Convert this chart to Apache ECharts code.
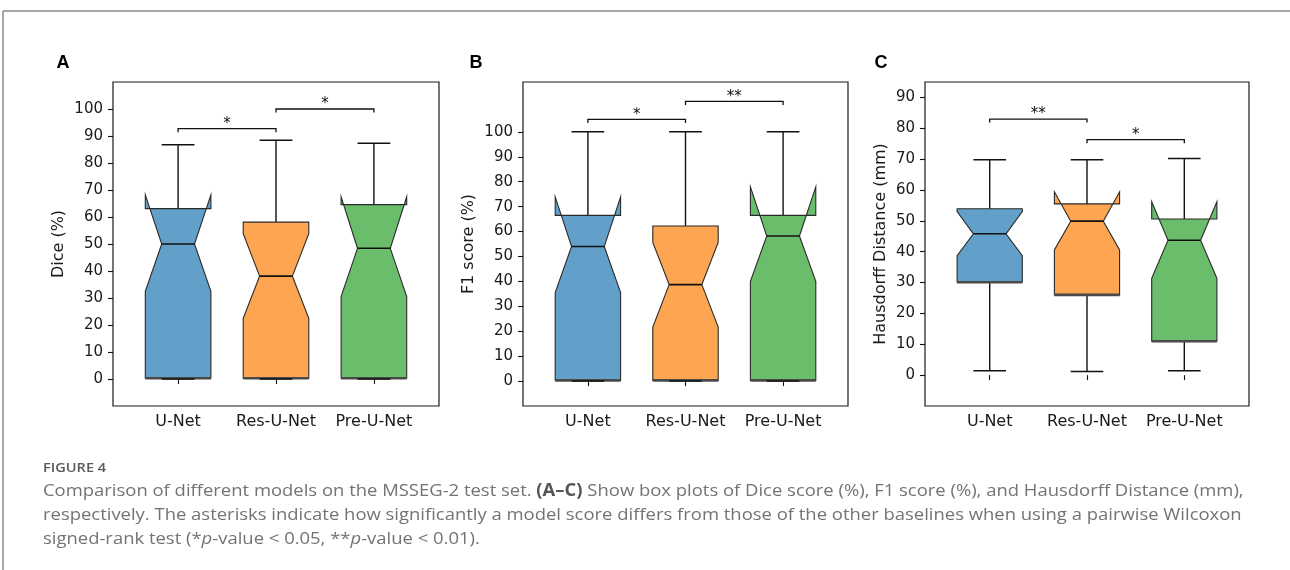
<!DOCTYPE html>
<html>
<head>
<meta charset="utf-8">
<script src="https://cdn.jsdelivr.net/npm/echarts@6/dist/echarts.min.js"></script>
<style>
html,body{margin:0;padding:0;background:#fff;}
#chart{width:1290px;height:570px;}
</style>
</head>
<body>
<div id="chart"></div>
<script>
// ---------- data ----------
const categories = ['U-Net', 'Res-U-Net', 'Pre-U-Net'];
const panelLetters = ['A', 'B', 'C'];
const yAxisNames = ['Dice (%)', 'F1 score (%)', 'Hausdorff Distance (mm)'];
const yTicksA = [0, 10, 20, 30, 40, 50, 60, 70, 80, 90, 100];
const yTicksB = [0, 10, 20, 30, 40, 50, 60, 70, 80, 90, 100];
const yTicksC = [0, 10, 20, 30, 40, 50, 60, 70, 80, 90];

// Panel A: Dice (%)
const diceLow     = [0, 0, 0];
const diceQ1      = [0.3, 0.3, 0.3];
const diceNotchLo = [32.5, 22.5, 30.5];
const diceMedian  = [50.0, 38.1, 48.4];
const diceNotchHi = [68.2, 53.8, 67.5];
const diceQ3      = [63.1, 58.1, 64.6];
const diceHigh    = [86.8, 88.4, 87.3];

// Panel B: F1 score (%)
const f1Low     = [0, 0, 0];
const f1Q1      = [0.3, 0.3, 0.3];
const f1NotchLo = [35.5, 21.7, 40.0];
const f1Median  = [54.0, 38.7, 58.2];
const f1NotchHi = [73.9, 55.6, 77.9];
const f1Q3      = [66.5, 62.2, 66.5];
const f1High    = [100, 100, 100];

// Panel C: Hausdorff Distance (mm)
const hdLow     = [1.4, 1.2, 1.4];
const hdQ1      = [30.1, 26.0, 11.0];
const hdNotchLo = [38.7, 40.6, 31.4];
const hdMedian  = [45.8, 49.9, 43.7];
const hdNotchHi = [53.0, 59.4, 56.2];
const hdQ3      = [53.9, 55.5, 50.6];
const hdHigh    = [69.8, 69.8, 70.2];

// significance brackets (category positions 1..3)
const sigPairsA = [[1, 2], [2, 3]];
const sigYA     = [92.7, 100.0];
const sigTextA  = ['*', '*'];
const sigPairsB = [[1, 2], [2, 3]];
const sigYB     = [105.0, 112.2];
const sigTextB  = ['*', '**'];
const sigPairsC = [[1, 2], [2, 3]];
const sigYC     = [83.0, 76.3];
const sigTextC  = ['**', '*'];

// ---------- styling ----------
const boxColors = ['#62a0ca', '#fda550', '#6abe6b'];
const BOX_W = 0.67;
const FONT = 'DejaVu Sans';

const panels = [
  {low: diceLow, q1: diceQ1, nlo: diceNotchLo, med: diceMedian, nhi: diceNotchHi, q3: diceQ3, high: diceHigh,
   ticks: yTicksA, ymin: -10, ymax: 110, sig: sigPairsA, sigY: sigYA, sigText: sigTextA,
   grid: {left: 113, top: 82, width: 326, height: 324}, nameGap: 46, letterX: 63},
  {low: f1Low, q1: f1Q1, nlo: f1NotchLo, med: f1Median, nhi: f1NotchHi, q3: f1Q3, high: f1High,
   ticks: yTicksB, ymin: -10, ymax: 120, sig: sigPairsB, sigY: sigYB, sigText: sigTextB,
   grid: {left: 523, top: 82, width: 325, height: 324}, nameGap: 46, letterX: 476},
  {low: hdLow, q1: hdQ1, nlo: hdNotchLo, med: hdMedian, nhi: hdNotchHi, q3: hdQ3, high: hdHigh,
   ticks: yTicksC, ymin: -10, ymax: 95, sig: sigPairsC, sigY: sigYC, sigText: sigTextC,
   grid: {left: 925, top: 82, width: 324, height: 324}, nameGap: 36, letterX: 881}
];

function boxRender(params, api) {
  const x = api.value(0);
  const low = api.value(1), q1 = api.value(2), nlo = api.value(3), med = api.value(4),
        nhi = api.value(5), q3 = api.value(6), high = api.value(7);
  const half = api.size([BOX_W, 0])[0] / 2;
  const cx = api.coord([x, med])[0];
  const Y = v => api.coord([x, v])[1];
  const L = cx - half, R = cx + half, qL = cx - half / 2, qR = cx + half / 2;
  const pts = [[L, Y(q1)], [R, Y(q1)], [R, Y(nlo)], [qR, Y(med)], [R, Y(nhi)], [R, Y(q3)],
               [L, Y(q3)], [L, Y(nhi)], [qL, Y(med)], [L, Y(nlo)]];
  const color = boxColors[params.dataIndex % boxColors.length];
  const ln = (x1, y1, x2, y2, w, c) => ({type: 'line', shape: {x1, y1, x2, y2},
    style: {stroke: c || '#111', lineWidth: w || 1.4}});
  return {
    type: 'group',
    children: [
      ln(cx, Y(q3), cx, Y(high)),
      ln(cx, Y(q1), cx, Y(low)),
      {type: 'polygon', shape: {points: pts}, style: {fill: color, stroke: '#2a2a2a', lineWidth: 1.1}},
      ln(L, Y(q1), R, Y(q1), 2.6, '#4a4a4a'),
      ln(qL, Y(med), qR, Y(med), 1.6, '#111'),
      ln(qL, Y(high), qR, Y(high), 1.5, '#111'),
      ln(qL, Y(low), qR, Y(low), 1.5, '#111')
    ]
  };
}

function makeSigRender(texts) {
  return function (params, api) {
    const p1 = api.coord([api.value(0), api.value(2)]);
    const p2 = api.coord([api.value(1), api.value(2)]);
    const LEG = 3.5;
    return {
      type: 'group',
      children: [
        {type: 'polyline', shape: {points: [[p1[0], p1[1] + LEG], [p1[0], p1[1]], [p2[0], p2[1]], [p2[0], p2[1] + LEG]]},
         style: {stroke: '#111', lineWidth: 1.3, fill: null}},
        {type: 'text', x: (p1[0] + p2[0]) / 2, y: p1[1] + 3,
         style: {text: texts[params.dataIndex], fill: '#111', font: '15px ' + FONT,
                 textAlign: 'center', textVerticalAlign: 'bottom'}}
      ]
    };
  };
}

const grids = [], xAxes = [], yAxes = [], series = [];
panels.forEach((p, i) => {
  grids.push(Object.assign({show: true, borderColor: '#1a1a1a', borderWidth: 1.2, backgroundColor: 'transparent'}, p.grid));
  xAxes.push({
    type: 'value', gridIndex: i, min: 0.335, max: 3.665,
    axisLine: {show: false}, splitLine: {show: false},
    axisTick: {show: true, length: 5, lineStyle: {color: '#111', width: 1.1}, customValues: [1, 2, 3]},
    axisLabel: {customValues: [1, 2, 3], formatter: v => categories[Math.round(v) - 1] || '',
                color: '#1a1a1a', fontSize: 16, fontFamily: FONT, margin: 8}
  });
  yAxes.push({
    type: 'value', gridIndex: i, min: p.ymin, max: p.ymax,
    name: yAxisNames[i], nameLocation: 'middle', nameGap: p.nameGap,
    nameTextStyle: {color: '#1a1a1a', fontSize: 16, fontFamily: FONT},
    axisLine: {show: false}, splitLine: {show: false},
    axisTick: {show: true, length: 5, lineStyle: {color: '#111', width: 1.1}, customValues: p.ticks},
    axisLabel: {customValues: p.ticks, color: '#1a1a1a', fontSize: 15, fontFamily: FONT, margin: 10}
  });
  const rows = categories.map((c, k) => [k + 1, p.low[k], p.q1[k], p.nlo[k], p.med[k], p.nhi[k], p.q3[k], p.high[k]]);
  series.push({type: 'custom', xAxisIndex: i, yAxisIndex: i, renderItem: boxRender, data: rows,
               encode: {x: 0, y: [1, 7]}, silent: true, clip: false});
  const sigRows = p.sig.map((pr, k) => [pr[0], pr[1], p.sigY[k]]);
  series.push({type: 'custom', xAxisIndex: i, yAxisIndex: i, renderItem: makeSigRender(p.sigText), data: sigRows,
               encode: {x: [0, 1], y: 2}, silent: true, clip: false, z: 5});
});

const capFont = '"Open Sans", "Noto Sans", sans-serif';
const capColor = '#737373';
const SX = 1.085;
const graphic = [
  {type: 'line', shape: {x1: 3, y1: 11, x2: 1290, y2: 11}, style: {stroke: '#8a8a8a', lineWidth: 1.5}},
  {type: 'line', shape: {x1: 3, y1: 11, x2: 3, y2: 570}, style: {stroke: '#8a8a8a', lineWidth: 1.5}},
  {type: 'text', x: 43, y: 468, scaleX: 1.12, style: {text: 'FIGURE 4', fill: '#5a5a5a', font: '600 13px ' + capFont, textVerticalAlign: 'middle'}},
  {type: 'text', x: 43, y: 491, scaleX: SX, style: {
    text: '{n|Comparison of different models on the MSSEG-2 test set. }{b|(A–C)}{n| Show box plots of Dice score (%), F1 score (%), and Hausdorff Distance (mm),}',
    textVerticalAlign: 'middle',
    rich: {n: {fill: capColor, fontSize: 17, fontFamily: capFont},
           b: {fill: '#555', fontSize: 17, fontFamily: capFont, fontWeight: 'bold'}}}},
  {type: 'text', x: 43, y: 515, scaleX: SX, style: {
    text: 'respectively. The asterisks indicate how significantly a model score differs from those of the other baselines when using a pairwise Wilcoxon',
    fill: capColor, font: '17px ' + capFont, textVerticalAlign: 'middle'}},
  {type: 'text', x: 43, y: 539, scaleX: SX, style: {
    text: '{n|signed-rank test (*}{i|p}{n|-value < 0.05, **}{i|p}{n|-value < 0.01).}',
    textVerticalAlign: 'middle',
    rich: {n: {fill: capColor, fontSize: 17, fontFamily: capFont},
           i: {fill: capColor, fontSize: 17, fontFamily: capFont, fontStyle: 'italic'}}}}
];
panels.forEach((p, i) => {
  graphic.push({type: 'text', x: p.letterX, y: 63, style: {text: panelLetters[i], fill: '#000',
    font: 'bold 18px "Liberation Sans", Arial, sans-serif', textAlign: 'center', textVerticalAlign: 'middle'}});
});

const chart = echarts.init(document.getElementById('chart'), null, {renderer: 'canvas'});
chart.setOption({
  animation: false,
  backgroundColor: '#fff',
  grid: grids, xAxis: xAxes, yAxis: yAxes, series: series, graphic: graphic
});
</script>
</body>
</html>
